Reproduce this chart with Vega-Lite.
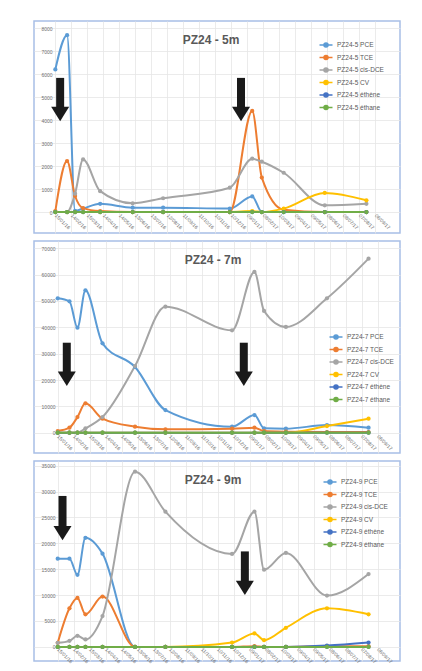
{
  "$schema": "https://vega.github.io/schema/vega-lite/v6.json",
  "padding": {"left": 33, "top": 20, "right": 5, "bottom": 0},
  "background": "white",
  "spacing": 6,
  "config": {
    "view": {"stroke": "#a8bfe6", "strokeWidth": 1.5},
    "font": "Liberation Sans",
    "axis": {"labelFont": "Liberation Sans", "labelColor": "#707070", "labelFontSize": 5, "labelOverlap": false, "labelBound": false, "labelFlush": false, "domain": false, "ticks": false, "grid": true, "gridColor": "#e6e6e6", "gridWidth": 0.8, "title": null},
    "title": {"font": "Liberation Sans", "fontSize": 12, "fontWeight": "bold", "color": "#595959", "anchor": "middle", "frame": "group", "baseline": "top", "offset": -26},
    "legend": {"labelFont": "Liberation Sans", "labelFontSize": 6.5, "labelColor": "#595959", "symbolType": "M-1.3,0H1.3M-0.4,0A0.4,0.4 0 1,0 0.4,0A0.4,0.4 0 1,0 -0.4,0", "symbolSize": 100, "symbolStrokeWidth": 1.6, "rowPadding": 0.5, "labelOffset": 5, "padding": 0}
  },
  "datasets": {
    "p1": [
      {"date": "2016-01-15", "series": "PZ24-5 PCE", "value": 6210},
      {"date": "2016-02-06", "series": "PZ24-5 PCE", "value": 7700},
      {"date": "2016-02-21", "series": "PZ24-5 PCE", "value": 50},
      {"date": "2016-03-07", "series": "PZ24-5 PCE", "value": 150},
      {"date": "2016-04-08", "series": "PZ24-5 PCE", "value": 360},
      {"date": "2016-06-08", "series": "PZ24-5 PCE", "value": 190},
      {"date": "2016-08-04", "series": "PZ24-5 PCE", "value": 190},
      {"date": "2016-12-07", "series": "PZ24-5 PCE", "value": 150},
      {"date": "2017-01-18", "series": "PZ24-5 PCE", "value": 680},
      {"date": "2017-02-05", "series": "PZ24-5 PCE", "value": 0},
      {"date": "2017-03-18", "series": "PZ24-5 PCE", "value": 0},
      {"date": "2017-06-03", "series": "PZ24-5 PCE", "value": 0},
      {"date": "2017-08-20", "series": "PZ24-5 PCE", "value": 0},
      {"date": "2016-01-15", "series": "PZ24-5 TCE", "value": 40},
      {"date": "2016-02-06", "series": "PZ24-5 TCE", "value": 2220},
      {"date": "2016-02-21", "series": "PZ24-5 TCE", "value": 700},
      {"date": "2016-03-07", "series": "PZ24-5 TCE", "value": 170},
      {"date": "2016-04-08", "series": "PZ24-5 TCE", "value": 40},
      {"date": "2016-06-08", "series": "PZ24-5 TCE", "value": 0},
      {"date": "2016-08-04", "series": "PZ24-5 TCE", "value": 0},
      {"date": "2016-12-07", "series": "PZ24-5 TCE", "value": 0},
      {"date": "2017-01-18", "series": "PZ24-5 TCE", "value": 4400},
      {"date": "2017-02-05", "series": "PZ24-5 TCE", "value": 1500},
      {"date": "2017-03-18", "series": "PZ24-5 TCE", "value": 100},
      {"date": "2017-06-03", "series": "PZ24-5 TCE", "value": 0},
      {"date": "2017-08-20", "series": "PZ24-5 TCE", "value": 0},
      {"date": "2016-01-15", "series": "PZ24-5 cis-DCE", "value": 0},
      {"date": "2016-02-06", "series": "PZ24-5 cis-DCE", "value": 0},
      {"date": "2016-02-21", "series": "PZ24-5 cis-DCE", "value": 800},
      {"date": "2016-03-07", "series": "PZ24-5 cis-DCE", "value": 2290},
      {"date": "2016-04-08", "series": "PZ24-5 cis-DCE", "value": 910},
      {"date": "2016-06-08", "series": "PZ24-5 cis-DCE", "value": 380},
      {"date": "2016-08-04", "series": "PZ24-5 cis-DCE", "value": 600},
      {"date": "2016-12-07", "series": "PZ24-5 cis-DCE", "value": 1060},
      {"date": "2017-01-18", "series": "PZ24-5 cis-DCE", "value": 2320},
      {"date": "2017-02-05", "series": "PZ24-5 cis-DCE", "value": 2190},
      {"date": "2017-03-18", "series": "PZ24-5 cis-DCE", "value": 1710},
      {"date": "2017-06-03", "series": "PZ24-5 cis-DCE", "value": 290},
      {"date": "2017-08-20", "series": "PZ24-5 cis-DCE", "value": 360},
      {"date": "2016-01-15", "series": "PZ24-5 CV", "value": 0},
      {"date": "2016-02-06", "series": "PZ24-5 CV", "value": 0},
      {"date": "2016-02-21", "series": "PZ24-5 CV", "value": 0},
      {"date": "2016-03-07", "series": "PZ24-5 CV", "value": 0},
      {"date": "2016-04-08", "series": "PZ24-5 CV", "value": 0},
      {"date": "2016-06-08", "series": "PZ24-5 CV", "value": 0},
      {"date": "2016-08-04", "series": "PZ24-5 CV", "value": 0},
      {"date": "2016-12-07", "series": "PZ24-5 CV", "value": 0},
      {"date": "2017-01-18", "series": "PZ24-5 CV", "value": 40},
      {"date": "2017-02-05", "series": "PZ24-5 CV", "value": 0},
      {"date": "2017-03-18", "series": "PZ24-5 CV", "value": 150},
      {"date": "2017-06-03", "series": "PZ24-5 CV", "value": 830},
      {"date": "2017-08-20", "series": "PZ24-5 CV", "value": 510},
      {"date": "2016-01-15", "series": "PZ24-5 éthène", "value": 0},
      {"date": "2016-02-06", "series": "PZ24-5 éthène", "value": 0},
      {"date": "2016-02-21", "series": "PZ24-5 éthène", "value": 0},
      {"date": "2016-03-07", "series": "PZ24-5 éthène", "value": 0},
      {"date": "2016-04-08", "series": "PZ24-5 éthène", "value": 0},
      {"date": "2016-06-08", "series": "PZ24-5 éthène", "value": 0},
      {"date": "2016-08-04", "series": "PZ24-5 éthène", "value": 0},
      {"date": "2016-12-07", "series": "PZ24-5 éthène", "value": 0},
      {"date": "2017-01-18", "series": "PZ24-5 éthène", "value": 0},
      {"date": "2017-02-05", "series": "PZ24-5 éthène", "value": 0},
      {"date": "2017-03-18", "series": "PZ24-5 éthène", "value": 0},
      {"date": "2017-06-03", "series": "PZ24-5 éthène", "value": 0},
      {"date": "2017-08-20", "series": "PZ24-5 éthène", "value": 0},
      {"date": "2016-01-15", "series": "PZ24-5 éthane", "value": 0},
      {"date": "2016-02-06", "series": "PZ24-5 éthane", "value": 0},
      {"date": "2016-02-21", "series": "PZ24-5 éthane", "value": 0},
      {"date": "2016-03-07", "series": "PZ24-5 éthane", "value": 0},
      {"date": "2016-04-08", "series": "PZ24-5 éthane", "value": 0},
      {"date": "2016-06-08", "series": "PZ24-5 éthane", "value": 0},
      {"date": "2016-08-04", "series": "PZ24-5 éthane", "value": 0},
      {"date": "2016-12-07", "series": "PZ24-5 éthane", "value": 0},
      {"date": "2017-01-18", "series": "PZ24-5 éthane", "value": 0},
      {"date": "2017-02-05", "series": "PZ24-5 éthane", "value": 0},
      {"date": "2017-03-18", "series": "PZ24-5 éthane", "value": 0},
      {"date": "2017-06-03", "series": "PZ24-5 éthane", "value": 0},
      {"date": "2017-08-20", "series": "PZ24-5 éthane", "value": 0}
    ],
    "p2": [
      {"date": "2016-01-15", "series": "PZ24-7 PCE", "value": 51010},
      {"date": "2016-02-06", "series": "PZ24-7 PCE", "value": 49870},
      {"date": "2016-02-21", "series": "PZ24-7 PCE", "value": 39870},
      {"date": "2016-03-07", "series": "PZ24-7 PCE", "value": 54050},
      {"date": "2016-04-08", "series": "PZ24-7 PCE", "value": 33920},
      {"date": "2016-06-08", "series": "PZ24-7 PCE", "value": 24940},
      {"date": "2016-08-04", "series": "PZ24-7 PCE", "value": 8600},
      {"date": "2016-12-07", "series": "PZ24-7 PCE", "value": 2280},
      {"date": "2017-01-18", "series": "PZ24-7 PCE", "value": 6710},
      {"date": "2017-02-05", "series": "PZ24-7 PCE", "value": 1650},
      {"date": "2017-03-18", "series": "PZ24-7 PCE", "value": 1520},
      {"date": "2017-06-03", "series": "PZ24-7 PCE", "value": 2900},
      {"date": "2017-08-20", "series": "PZ24-7 PCE", "value": 1900},
      {"date": "2016-01-15", "series": "PZ24-7 TCE", "value": 630},
      {"date": "2016-02-06", "series": "PZ24-7 TCE", "value": 1900},
      {"date": "2016-02-21", "series": "PZ24-7 TCE", "value": 5950},
      {"date": "2016-03-07", "series": "PZ24-7 TCE", "value": 11140},
      {"date": "2016-04-08", "series": "PZ24-7 TCE", "value": 5320},
      {"date": "2016-06-08", "series": "PZ24-7 TCE", "value": 2280},
      {"date": "2016-08-04", "series": "PZ24-7 TCE", "value": 1270},
      {"date": "2016-12-07", "series": "PZ24-7 TCE", "value": 1520},
      {"date": "2017-01-18", "series": "PZ24-7 TCE", "value": 1900},
      {"date": "2017-02-05", "series": "PZ24-7 TCE", "value": 630},
      {"date": "2017-03-18", "series": "PZ24-7 TCE", "value": 380},
      {"date": "2017-06-03", "series": "PZ24-7 TCE", "value": 250},
      {"date": "2017-08-20", "series": "PZ24-7 TCE", "value": 250},
      {"date": "2016-01-15", "series": "PZ24-7 cis-DCE", "value": 0},
      {"date": "2016-02-06", "series": "PZ24-7 cis-DCE", "value": 0},
      {"date": "2016-02-21", "series": "PZ24-7 cis-DCE", "value": 0},
      {"date": "2016-03-07", "series": "PZ24-7 cis-DCE", "value": 1650},
      {"date": "2016-04-08", "series": "PZ24-7 cis-DCE", "value": 5950},
      {"date": "2016-06-08", "series": "PZ24-7 cis-DCE", "value": 25300},
      {"date": "2016-08-04", "series": "PZ24-7 cis-DCE", "value": 47850},
      {"date": "2016-12-07", "series": "PZ24-7 cis-DCE", "value": 38860},
      {"date": "2017-01-18", "series": "PZ24-7 cis-DCE", "value": 61010},
      {"date": "2017-02-05", "series": "PZ24-7 cis-DCE", "value": 46200},
      {"date": "2017-03-18", "series": "PZ24-7 cis-DCE", "value": 40130},
      {"date": "2017-06-03", "series": "PZ24-7 cis-DCE", "value": 51010},
      {"date": "2017-08-20", "series": "PZ24-7 cis-DCE", "value": 66080},
      {"date": "2016-01-15", "series": "PZ24-7 CV", "value": 0},
      {"date": "2016-02-06", "series": "PZ24-7 CV", "value": 0},
      {"date": "2016-02-21", "series": "PZ24-7 CV", "value": 0},
      {"date": "2016-03-07", "series": "PZ24-7 CV", "value": 0},
      {"date": "2016-04-08", "series": "PZ24-7 CV", "value": 0},
      {"date": "2016-06-08", "series": "PZ24-7 CV", "value": 0},
      {"date": "2016-08-04", "series": "PZ24-7 CV", "value": 0},
      {"date": "2016-12-07", "series": "PZ24-7 CV", "value": 0},
      {"date": "2017-01-18", "series": "PZ24-7 CV", "value": 0},
      {"date": "2017-02-05", "series": "PZ24-7 CV", "value": 0},
      {"date": "2017-03-18", "series": "PZ24-7 CV", "value": 0},
      {"date": "2017-06-03", "series": "PZ24-7 CV", "value": 2530},
      {"date": "2017-08-20", "series": "PZ24-7 CV", "value": 5320},
      {"date": "2016-01-15", "series": "PZ24-7 éthène", "value": 0},
      {"date": "2016-02-06", "series": "PZ24-7 éthène", "value": 0},
      {"date": "2016-02-21", "series": "PZ24-7 éthène", "value": 0},
      {"date": "2016-03-07", "series": "PZ24-7 éthène", "value": 0},
      {"date": "2016-04-08", "series": "PZ24-7 éthène", "value": 0},
      {"date": "2016-06-08", "series": "PZ24-7 éthène", "value": 0},
      {"date": "2016-08-04", "series": "PZ24-7 éthène", "value": 0},
      {"date": "2016-12-07", "series": "PZ24-7 éthène", "value": 0},
      {"date": "2017-01-18", "series": "PZ24-7 éthène", "value": 0},
      {"date": "2017-02-05", "series": "PZ24-7 éthène", "value": 0},
      {"date": "2017-03-18", "series": "PZ24-7 éthène", "value": 0},
      {"date": "2017-06-03", "series": "PZ24-7 éthène", "value": 0},
      {"date": "2017-08-20", "series": "PZ24-7 éthène", "value": 0},
      {"date": "2016-01-15", "series": "PZ24-7 éthane", "value": 0},
      {"date": "2016-02-06", "series": "PZ24-7 éthane", "value": 0},
      {"date": "2016-02-21", "series": "PZ24-7 éthane", "value": 0},
      {"date": "2016-03-07", "series": "PZ24-7 éthane", "value": 0},
      {"date": "2016-04-08", "series": "PZ24-7 éthane", "value": 0},
      {"date": "2016-06-08", "series": "PZ24-7 éthane", "value": 0},
      {"date": "2016-08-04", "series": "PZ24-7 éthane", "value": 0},
      {"date": "2016-12-07", "series": "PZ24-7 éthane", "value": 0},
      {"date": "2017-01-18", "series": "PZ24-7 éthane", "value": 0},
      {"date": "2017-02-05", "series": "PZ24-7 éthane", "value": 0},
      {"date": "2017-03-18", "series": "PZ24-7 éthane", "value": 0},
      {"date": "2017-06-03", "series": "PZ24-7 éthane", "value": 0},
      {"date": "2017-08-20", "series": "PZ24-7 éthane", "value": 0}
    ],
    "p3": [
      {"date": "2016-01-15", "series": "PZ24-9 PCE", "value": 17040},
      {"date": "2016-02-06", "series": "PZ24-9 PCE", "value": 17040},
      {"date": "2016-02-21", "series": "PZ24-9 PCE", "value": 13930},
      {"date": "2016-03-07", "series": "PZ24-9 PCE", "value": 21060},
      {"date": "2016-04-08", "series": "PZ24-9 PCE", "value": 18010},
      {"date": "2016-06-08", "series": "PZ24-9 PCE", "value": 0},
      {"date": "2016-08-04", "series": "PZ24-9 PCE", "value": 0},
      {"date": "2016-12-07", "series": "PZ24-9 PCE", "value": 0},
      {"date": "2017-01-18", "series": "PZ24-9 PCE", "value": 0},
      {"date": "2017-02-05", "series": "PZ24-9 PCE", "value": 0},
      {"date": "2017-03-18", "series": "PZ24-9 PCE", "value": 0},
      {"date": "2017-06-03", "series": "PZ24-9 PCE", "value": 0},
      {"date": "2017-08-20", "series": "PZ24-9 PCE", "value": 0},
      {"date": "2016-01-15", "series": "PZ24-9 TCE", "value": 780},
      {"date": "2016-02-06", "series": "PZ24-9 TCE", "value": 7450},
      {"date": "2016-02-21", "series": "PZ24-9 TCE", "value": 9460},
      {"date": "2016-03-07", "series": "PZ24-9 TCE", "value": 6280},
      {"date": "2016-04-08", "series": "PZ24-9 TCE", "value": 9720},
      {"date": "2016-06-08", "series": "PZ24-9 TCE", "value": 0},
      {"date": "2016-08-04", "series": "PZ24-9 TCE", "value": 0},
      {"date": "2016-12-07", "series": "PZ24-9 TCE", "value": 0},
      {"date": "2017-01-18", "series": "PZ24-9 TCE", "value": 130},
      {"date": "2017-02-05", "series": "PZ24-9 TCE", "value": 0},
      {"date": "2017-03-18", "series": "PZ24-9 TCE", "value": 0},
      {"date": "2017-06-03", "series": "PZ24-9 TCE", "value": 130},
      {"date": "2017-08-20", "series": "PZ24-9 TCE", "value": 130},
      {"date": "2016-01-15", "series": "PZ24-9 cis-DCE", "value": 780},
      {"date": "2016-02-06", "series": "PZ24-9 cis-DCE", "value": 1170},
      {"date": "2016-02-21", "series": "PZ24-9 cis-DCE", "value": 2140},
      {"date": "2016-03-07", "series": "PZ24-9 cis-DCE", "value": 1430},
      {"date": "2016-04-08", "series": "PZ24-9 cis-DCE", "value": 5960},
      {"date": "2016-06-08", "series": "PZ24-9 cis-DCE", "value": 33830},
      {"date": "2016-08-04", "series": "PZ24-9 cis-DCE", "value": 26110},
      {"date": "2016-12-07", "series": "PZ24-9 cis-DCE", "value": 17950},
      {"date": "2017-01-18", "series": "PZ24-9 cis-DCE", "value": 26110},
      {"date": "2017-02-05", "series": "PZ24-9 cis-DCE", "value": 14900},
      {"date": "2017-03-18", "series": "PZ24-9 cis-DCE", "value": 18140},
      {"date": "2017-06-03", "series": "PZ24-9 cis-DCE", "value": 9910},
      {"date": "2017-08-20", "series": "PZ24-9 cis-DCE", "value": 14060},
      {"date": "2016-01-15", "series": "PZ24-9 CV", "value": 0},
      {"date": "2016-02-06", "series": "PZ24-9 CV", "value": 0},
      {"date": "2016-02-21", "series": "PZ24-9 CV", "value": 0},
      {"date": "2016-03-07", "series": "PZ24-9 CV", "value": 0},
      {"date": "2016-04-08", "series": "PZ24-9 CV", "value": 0},
      {"date": "2016-06-08", "series": "PZ24-9 CV", "value": 0},
      {"date": "2016-08-04", "series": "PZ24-9 CV", "value": 0},
      {"date": "2016-12-07", "series": "PZ24-9 CV", "value": 840},
      {"date": "2017-01-18", "series": "PZ24-9 CV", "value": 2590},
      {"date": "2017-02-05", "series": "PZ24-9 CV", "value": 1300},
      {"date": "2017-03-18", "series": "PZ24-9 CV", "value": 3690},
      {"date": "2017-06-03", "series": "PZ24-9 CV", "value": 7450},
      {"date": "2017-08-20", "series": "PZ24-9 CV", "value": 6290},
      {"date": "2016-01-15", "series": "PZ24-9 éthène", "value": 0},
      {"date": "2016-02-06", "series": "PZ24-9 éthène", "value": 0},
      {"date": "2016-02-21", "series": "PZ24-9 éthène", "value": 0},
      {"date": "2016-03-07", "series": "PZ24-9 éthène", "value": 0},
      {"date": "2016-04-08", "series": "PZ24-9 éthène", "value": 0},
      {"date": "2016-06-08", "series": "PZ24-9 éthène", "value": 0},
      {"date": "2016-08-04", "series": "PZ24-9 éthène", "value": 0},
      {"date": "2016-12-07", "series": "PZ24-9 éthène", "value": 0},
      {"date": "2017-01-18", "series": "PZ24-9 éthène", "value": 0},
      {"date": "2017-02-05", "series": "PZ24-9 éthène", "value": 0},
      {"date": "2017-03-18", "series": "PZ24-9 éthène", "value": 0},
      {"date": "2017-06-03", "series": "PZ24-9 éthène", "value": 260},
      {"date": "2017-08-20", "series": "PZ24-9 éthène", "value": 840},
      {"date": "2016-01-15", "series": "PZ24-9 éthane", "value": 0},
      {"date": "2016-02-06", "series": "PZ24-9 éthane", "value": 0},
      {"date": "2016-02-21", "series": "PZ24-9 éthane", "value": 0},
      {"date": "2016-03-07", "series": "PZ24-9 éthane", "value": 0},
      {"date": "2016-04-08", "series": "PZ24-9 éthane", "value": 0},
      {"date": "2016-06-08", "series": "PZ24-9 éthane", "value": 0},
      {"date": "2016-08-04", "series": "PZ24-9 éthane", "value": 0},
      {"date": "2016-12-07", "series": "PZ24-9 éthane", "value": 0},
      {"date": "2017-01-18", "series": "PZ24-9 éthane", "value": 0},
      {"date": "2017-02-05", "series": "PZ24-9 éthane", "value": 0},
      {"date": "2017-03-18", "series": "PZ24-9 éthane", "value": 0},
      {"date": "2017-06-03", "series": "PZ24-9 éthane", "value": 0},
      {"date": "2017-08-20", "series": "PZ24-9 éthane", "value": 0}
    ],
    "a1": [
      {"date": "2016-01-24", "top": 5840, "bot": 4487, "head": 4270},
      {"date": "2016-12-28", "top": 5840, "bot": 4487, "head": 4270}
    ],
    "a2": [
      {"date": "2016-02-01", "top": 34160, "bot": 22360, "head": 20460},
      {"date": "2016-12-29", "top": 34160, "bot": 22360, "head": 20460}
    ],
    "a3": [
      {"date": "2016-01-24", "top": 29150, "bot": 22950, "head": 21980},
      {"date": "2016-12-31", "top": 18440, "bot": 12360, "head": 11390}
    ]
  },
  "vconcat": [
    {
      "width": 366, "height": 212,
      "title": {"text": "PZ24 - 5m", "dx": -6},
      "layer": [
        {
          "data": {"name": "p1"},
          "mark": {"type": "line", "interpolate": "monotone", "strokeWidth": 2, "point": {"filled": true, "size": 18}},
          "encoding": {
            "x": {"field": "date", "type": "temporal",
              "scale": {"type": "utc", "nice": false, "domain": [{"year": 2015, "month": 12, "date": 6, "utc": true}, {"year": 2017, "month": 10, "date": 22, "utc": true}]},
              "axis": {"offset": -21, "format": "%d/%m/%y", "labelAngle": 45, "labelAlign": "left", "labelBaseline": "middle", "labelPadding": 2, "tickCount": 100,
                "values": [{"year": 2016, "month": 1, "date": 15, "utc": true}, {"year": 2016, "month": 2, "date": 14, "utc": true}, {"year": 2016, "month": 3, "date": 15, "utc": true}, {"year": 2016, "month": 4, "date": 14, "utc": true}, {"year": 2016, "month": 5, "date": 14, "utc": true}, {"year": 2016, "month": 6, "date": 13, "utc": true}, {"year": 2016, "month": 7, "date": 13, "utc": true}, {"year": 2016, "month": 8, "date": 12, "utc": true}, {"year": 2016, "month": 9, "date": 11, "utc": true}, {"year": 2016, "month": 10, "date": 11, "utc": true}, {"year": 2016, "month": 11, "date": 10, "utc": true}, {"year": 2016, "month": 12, "date": 10, "utc": true}, {"year": 2017, "month": 1, "date": 9, "utc": true}, {"year": 2017, "month": 2, "date": 8, "utc": true}, {"year": 2017, "month": 3, "date": 10, "utc": true}, {"year": 2017, "month": 4, "date": 9, "utc": true}, {"year": 2017, "month": 5, "date": 9, "utc": true}, {"year": 2017, "month": 6, "date": 8, "utc": true}, {"year": 2017, "month": 7, "date": 8, "utc": true}, {"year": 2017, "month": 8, "date": 7, "utc": true}, {"year": 2017, "month": 9, "date": 6, "utc": true}]}},
            "y": {"field": "value", "type": "quantitative",
              "scale": {"domain": [-913, 8317], "nice": false, "zero": false},
              "axis": {"offset": -20, "format": "d", "tickCount": 100, "values": [0, 1000, 2000, 3000, 4000, 5000, 6000, 7000, 8000]}},
            "color": {"field": "series", "type": "nominal",
              "scale": {"domain": ["PZ24-5 PCE", "PZ24-5 TCE", "PZ24-5 cis-DCE", "PZ24-5 CV", "PZ24-5 éthène", "PZ24-5 éthane"], "range": ["#5B9BD5", "#ED7D31", "#A5A5A5", "#FFC000", "#4472C4", "#70AD47"]},
              "legend": {"title": null, "orient": "none", "legendX": 286, "legendY": 18}}
          }
        },
        {
          "data": {"name": "a1"},
          "mark": {"type": "rule", "strokeWidth": 8, "color": "#1a1a1a"},
          "encoding": {"x": {"field": "date", "type": "temporal"}, "y": {"field": "top", "type": "quantitative"}, "y2": {"field": "bot"}}
        },
        {
          "data": {"name": "a1"},
          "mark": {"type": "point", "shape": "M-1,-0.8L1,-0.8L0,0.8Z", "filled": true, "color": "#1a1a1a", "size": 324, "opacity": 1},
          "encoding": {"x": {"field": "date", "type": "temporal"}, "y": {"field": "head", "type": "quantitative"}}
        }
      ]
    },
    {
      "width": 366, "height": 212,
      "title": {"text": "PZ24 - 7m", "dx": -4},
      "layer": [
        {
          "data": {"name": "p2"},
          "mark": {"type": "line", "interpolate": "monotone", "strokeWidth": 2, "point": {"filled": true, "size": 18}},
          "encoding": {
            "x": {"field": "date", "type": "temporal",
              "scale": {"type": "utc", "nice": false, "domain": [{"year": 2015, "month": 12, "date": 1, "hours": 12, "utc": true}, {"year": 2017, "month": 10, "date": 18, "utc": true}]},
              "axis": {"offset": -20, "format": "%d/%m/%y", "labelAngle": 45, "labelAlign": "left", "labelBaseline": "middle", "labelPadding": 2, "tickCount": 100,
                "values": [{"year": 2016, "month": 1, "date": 15, "utc": true}, {"year": 2016, "month": 2, "date": 14, "utc": true}, {"year": 2016, "month": 3, "date": 15, "utc": true}, {"year": 2016, "month": 4, "date": 14, "utc": true}, {"year": 2016, "month": 5, "date": 14, "utc": true}, {"year": 2016, "month": 6, "date": 13, "utc": true}, {"year": 2016, "month": 7, "date": 13, "utc": true}, {"year": 2016, "month": 8, "date": 12, "utc": true}, {"year": 2016, "month": 9, "date": 11, "utc": true}, {"year": 2016, "month": 10, "date": 11, "utc": true}, {"year": 2016, "month": 11, "date": 10, "utc": true}, {"year": 2016, "month": 12, "date": 10, "utc": true}, {"year": 2017, "month": 1, "date": 9, "utc": true}, {"year": 2017, "month": 2, "date": 8, "utc": true}, {"year": 2017, "month": 3, "date": 10, "utc": true}, {"year": 2017, "month": 4, "date": 9, "utc": true}, {"year": 2017, "month": 5, "date": 9, "utc": true}, {"year": 2017, "month": 6, "date": 8, "utc": true}, {"year": 2017, "month": 7, "date": 8, "utc": true}, {"year": 2017, "month": 8, "date": 7, "utc": true}, {"year": 2017, "month": 9, "date": 6, "utc": true}]}},
            "y": {"field": "value", "type": "quantitative",
              "scale": {"domain": [-7706, 72771], "nice": false, "zero": false},
              "axis": {"offset": -23, "format": "d", "tickCount": 100, "values": [0, 10000, 20000, 30000, 40000, 50000, 60000, 70000]}},
            "color": {"field": "series", "type": "nominal",
              "scale": {"domain": ["PZ24-7 PCE", "PZ24-7 TCE", "PZ24-7 cis-DCE", "PZ24-7 CV", "PZ24-7 éthène", "PZ24-7 éthane"], "range": ["#5B9BD5", "#ED7D31", "#A5A5A5", "#FFC000", "#4472C4", "#70AD47"]},
              "legend": {"title": null, "orient": "none", "legendX": 296, "legendY": 90}}
          }
        },
        {
          "data": {"name": "a2"},
          "mark": {"type": "rule", "strokeWidth": 8, "color": "#1a1a1a"},
          "encoding": {"x": {"field": "date", "type": "temporal"}, "y": {"field": "top", "type": "quantitative"}, "y2": {"field": "bot"}}
        },
        {
          "data": {"name": "a2"},
          "mark": {"type": "point", "shape": "M-1,-0.8L1,-0.8L0,0.8Z", "filled": true, "color": "#1a1a1a", "size": 324, "opacity": 1},
          "encoding": {"x": {"field": "date", "type": "temporal"}, "y": {"field": "head", "type": "quantitative"}}
        }
      ]
    },
    {
      "width": 366, "height": 200,
      "title": {"text": "PZ24 - 9m", "dx": -4},
      "layer": [
        {
          "data": {"name": "p3"},
          "mark": {"type": "line", "interpolate": "monotone", "strokeWidth": 2, "point": {"filled": true, "size": 18}},
          "encoding": {
            "x": {"field": "date", "type": "temporal",
              "scale": {"type": "utc", "nice": false, "domain": [{"year": 2015, "month": 12, "date": 1, "hours": 12, "utc": true}, {"year": 2017, "month": 10, "date": 18, "utc": true}]},
              "axis": {"offset": -14, "format": "%d/%m/%y", "labelAngle": 45, "labelAlign": "left", "labelBaseline": "middle", "labelPadding": 1, "tickCount": 100,
                "values": [{"year": 2016, "month": 1, "date": 15, "utc": true}, {"year": 2016, "month": 2, "date": 14, "utc": true}, {"year": 2016, "month": 3, "date": 15, "utc": true}, {"year": 2016, "month": 4, "date": 14, "utc": true}, {"year": 2016, "month": 5, "date": 14, "utc": true}, {"year": 2016, "month": 6, "date": 13, "utc": true}, {"year": 2016, "month": 7, "date": 13, "utc": true}, {"year": 2016, "month": 8, "date": 12, "utc": true}, {"year": 2016, "month": 9, "date": 11, "utc": true}, {"year": 2016, "month": 10, "date": 11, "utc": true}, {"year": 2016, "month": 11, "date": 10, "utc": true}, {"year": 2016, "month": 12, "date": 10, "utc": true}, {"year": 2017, "month": 1, "date": 9, "utc": true}, {"year": 2017, "month": 2, "date": 8, "utc": true}, {"year": 2017, "month": 3, "date": 10, "utc": true}, {"year": 2017, "month": 4, "date": 9, "utc": true}, {"year": 2017, "month": 5, "date": 9, "utc": true}, {"year": 2017, "month": 6, "date": 8, "utc": true}, {"year": 2017, "month": 7, "date": 8, "utc": true}, {"year": 2017, "month": 8, "date": 7, "utc": true}, {"year": 2017, "month": 9, "date": 6, "utc": true}]}},
            "y": {"field": "value", "type": "quantitative",
              "scale": {"domain": [-2726, 35900], "nice": false, "zero": false},
              "axis": {"offset": -23, "format": "d", "tickCount": 100, "values": [0, 5000, 10000, 15000, 20000, 25000, 30000, 35000]}},
            "color": {"field": "series", "type": "nominal",
              "scale": {"domain": ["PZ24-9 PCE", "PZ24-9 TCE", "PZ24-9 cis-DCE", "PZ24-9 CV", "PZ24-9 éthène", "PZ24-9 éthane"], "range": ["#5B9BD5", "#ED7D31", "#A5A5A5", "#FFC000", "#4472C4", "#70AD47"]},
              "legend": {"title": null, "orient": "none", "legendX": 290, "legendY": 15}}
          }
        },
        {
          "data": {"name": "a3"},
          "mark": {"type": "rule", "strokeWidth": 8, "color": "#1a1a1a"},
          "encoding": {"x": {"field": "date", "type": "temporal"}, "y": {"field": "top", "type": "quantitative"}, "y2": {"field": "bot"}}
        },
        {
          "data": {"name": "a3"},
          "mark": {"type": "point", "shape": "M-1,-0.8L1,-0.8L0,0.8Z", "filled": true, "color": "#1a1a1a", "size": 324, "opacity": 1},
          "encoding": {"x": {"field": "date", "type": "temporal"}, "y": {"field": "head", "type": "quantitative"}}
        }
      ]
    }
  ],
  "resolve": {"scale": {"x": "independent", "y": "independent", "color": "independent"}, "legend": {"color": "independent"}}
}
